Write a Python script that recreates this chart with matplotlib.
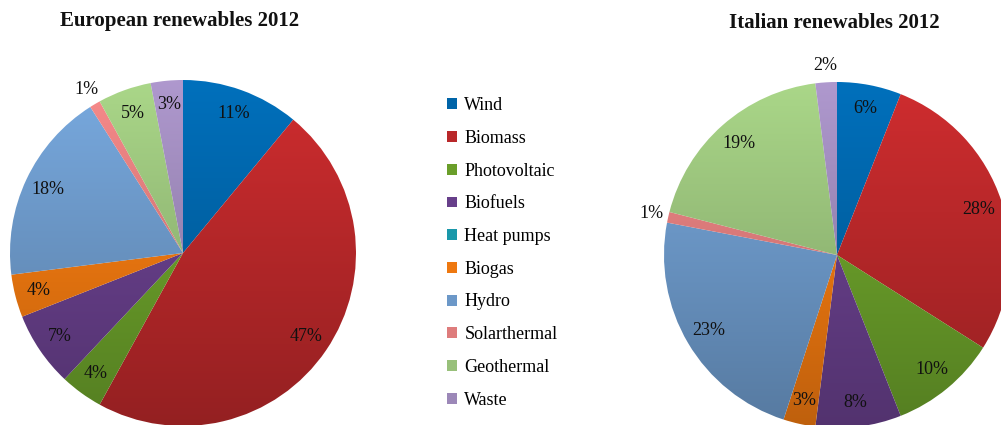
import numpy as np
import matplotlib
matplotlib.use("Agg")
import matplotlib.pyplot as plt
from matplotlib.patches import Patch
from matplotlib.colors import to_rgb

plt.rcParams['font.family'] = ['Liberation Serif', 'DejaVu Serif']

sources = ['Wind', 'Biomass', 'Photovoltaic', 'Biofuels', 'Heat pumps',
           'Biogas', 'Hydro', 'Solarthermal', 'Geothermal', 'Waste']
colors = ['#0064a8', '#b9282a', '#6a9e2a', '#673f8a', '#1a98aa',
          '#ee7810', '#6c98c8', '#de7c7c', '#98c07a', '#9c88b8']
europe = [11, 47, 4, 7, 0, 4, 18, 1, 5, 3]
italy = [6, 28, 10, 8, 0, 3, 23, 1, 19, 2]

W, H = 1001, 425
fig = plt.figure(figsize=(W / 100, H / 100), dpi=100)
ax = fig.add_axes([0, 0, 1, 1])

R = 173


def draw_pie(values, center, title, title_y):
    cx, cy = center
    wedges, _ = ax.pie(values, colors=colors, startangle=90, counterclock=False,
                       radius=R, center=center, frame=True,
                       wedgeprops=dict(linewidth=0))
    # vertical shading: lighter on top, darker at the bottom
    shade = np.linspace(0.80, 1.12, 200)[:, None]
    for w, c in zip(wedges, colors):
        rgb = np.clip(np.array(to_rgb(c))[None, :] * shade, 0, 1)
        img = rgb[:, None, :]
        im = ax.imshow(img, extent=(cx - R, cx + R, cy - R, cy + R),
                       origin='lower', aspect='auto', interpolation='bilinear')
        im.set_clip_path(w)
        w.set_facecolor('none')
    for w, v in zip(wedges, values):
        if v == 0:
            continue
        mid = np.deg2rad((w.theta1 + w.theta2) / 2)
        d = 1.1 if v <= 2 else 0.86
        ax.text(cx + d * R * np.cos(mid), cy + d * R * np.sin(mid), f"{v}%",
                ha='center', va='center', fontsize=13, color='#111111')
    ax.text(cx - 3, H - title_y, title, ha='center', va='center',
            fontsize=15, fontweight='bold', color='#111111')


draw_pie(europe, (183, H - 253), 'European renewables 2012', 21)
draw_pie(italy, (837, H - 255), 'Italian renewables 2012', 23)

handles = [Patch(facecolor=c, edgecolor='none') for c in colors]
ax.legend(handles, sources, loc='upper left', bbox_to_anchor=(440 / W, 1 - 90 / H),
          frameon=False, fontsize=13, handlelength=0.55, handleheight=0.55,
          handletextpad=0.4, labelspacing=0.87, borderaxespad=0)

ax.set_xlim(0, W)
ax.set_ylim(0, H)
ax.set_aspect('auto')
ax.axis('off')

fig.savefig('out.png', dpi=100)
